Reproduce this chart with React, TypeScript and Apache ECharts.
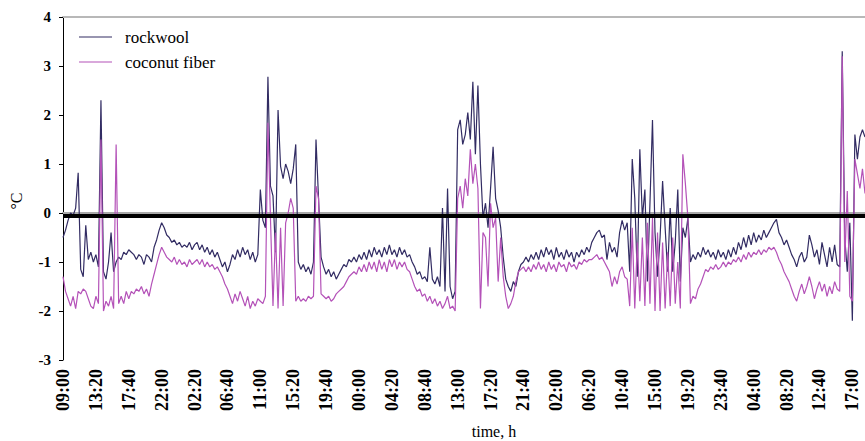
import React, { useEffect, useRef } from 'react';
import * as echarts from 'echarts';

// Readings every 20 minutes, starting 09:00
const START_MINUTE = 9 * 60;
const STEP_MINUTES = 20;
const LABEL_EVERY = 13; // one labelled tick every 4 h 20 min

const TICK_LABELS = [
  '09:00', '13:20', '17:40', '22:00', '02:20', '06:40', '11:00', '15:20', '19:40',
  '00:00', '04:20', '08:40', '13:00', '17:20', '21:40', '02:00', '06:20', '10:40',
  '15:00', '19:20', '23:40', '04:00', '08:20', '12:40', '17:00',
];

const SERIES_NAMES = ['rockwool', 'coconut fiber'];

const ROCKWOOL = [
  -0.5, -0.35, -0.15, 0.0, -0.05, 0.1, 0.82, -1.15, -1.3, -0.25, -0.95, -0.8, -1.0,
  -0.85, -1.1, 2.3, -1.2, -1.35, -1.0, -0.4, -1.2, -1.0, -0.9, -0.95, -0.8, -0.85,
  -0.75, -0.8, -0.85, -0.95, -0.85, -0.9, -1.05, -0.85, -0.9, -1.0, -0.7, -0.55, -0.35,
  -0.2, -0.3, -0.45, -0.5, -0.6, -0.55, -0.65, -0.6, -0.7, -0.65, -0.7, -0.6, -0.75,
  -0.65, -0.6, -0.75, -0.65, -0.8, -0.7, -0.85, -0.75, -0.9, -0.8, -0.95, -1.1, -1.0,
  -1.2, -1.05, -0.85, -0.95, -0.75, -0.9, -0.7, -0.85, -0.75, -0.95, -0.8, -1.0, -0.85,
  0.48, -0.15, -0.3, 2.78, 0.55, 0.35, -0.8, 2.1, 0.95, 0.7, 1.0, 0.85, 0.6,
  0.9, 1.4, -1.0, -1.15, -1.05, -1.2, -1.1, -1.25, -1.0, 1.5, 0.3, -0.9, -1.1,
  -1.25, -1.15, -1.3, -1.2, -1.35, -1.25, -1.15, -1.05, -1.1, -0.95, -1.0, -0.9, -1.0,
  -0.85, -0.95, -0.8, -0.95, -0.75, -0.9, -0.7, -0.85, -0.75, -0.9, -0.7, -0.85, -0.65,
  -0.85, -0.75, -0.9, -0.7, -0.85, -0.75, -0.9, -0.85, -1.0, -1.1, -1.25, -1.2, -1.35,
  -1.3, -1.4, -0.7, -1.35, -1.45, -1.3, -1.5, 0.1, -1.6, 0.5, -1.5, -1.75, -1.6,
  1.7, 1.9, 1.4, 1.6, 2.05, 1.5, 2.68, 1.2, 2.6, 1.0, -0.1, 0.2, -0.3,
  0.5, 1.35, 0.3, 0.05, -0.3, -0.9, -1.35, -1.5, -1.6, -1.4, -1.5, -1.2, -1.05,
  -1.0, -0.9, -1.0, -0.85, -0.95, -0.8, -0.95, -0.75, -0.9, -0.7, -0.85, -0.75, -0.95,
  -0.7, -0.9, -0.8, -0.95, -0.75, -0.9, -0.8, -1.0, -0.8, -0.9, -0.75, -0.85, -0.7,
  -0.8, -0.6, -0.5, -0.4, -0.35, -0.5, -0.45, -0.95, -0.6, -0.8, -0.7, -0.9, -0.4,
  -0.15, -0.35, -0.2, -1.2, 1.1, 0.3, -1.3, 1.3, -0.1, 0.48, -1.4, 0.2, 1.9,
  -0.4, -1.3, -0.5, 0.65, -0.3, -1.2, 0.1, -1.2, -0.6, 0.48, -1.4, -0.3, -0.5,
  -0.1, -1.0, -0.85, -0.95, -0.8, -0.9, -0.7, -0.85, -0.75, -0.9, -0.8, -0.95, -0.75,
  -0.9, -0.8, -0.95, -0.75, -0.9, -0.7, -0.85, -0.6, -0.75, -0.5, -0.7, -0.45, -0.65,
  -0.4, -0.6, -0.45, -0.55, -0.35, -0.5, -0.4, -0.3, -0.2, -0.13, -0.4, -0.5, -0.65,
  -0.55, -0.7, -0.85, -0.95, -1.1, -0.9, -0.8, -1.0, -0.9, -0.45, -0.65, -0.9, -0.75,
  -1.05, -0.6, -0.85, -1.1, -0.7, -1.0, -0.65, -1.05, -1.1, 3.3, -0.5, -1.2, -0.2,
  -2.2, 1.6, 1.1, 1.55, 1.7, 1.55,
];

const COCONUT_FIBER = [
  -1.3, -1.6, -1.75, -1.9, -1.7, -1.95, -1.6, -1.65, -1.55, -1.6, -1.75, -1.9, -1.95,
  -1.7, -1.85, 1.5, -2.0, -1.8, -1.9, -1.7, -1.95, 1.4, -1.85, -1.7, -1.85, -1.6,
  -1.75, -1.6, -1.65, -1.55, -1.6, -1.5, -1.65, -1.55, -1.7, -1.45, -1.25, -1.05, -0.85,
  -0.7, -0.8, -0.9, -0.95, -1.0, -0.9, -1.05, -0.95, -1.05, -1.0, -1.1, -0.95, -1.05,
  -1.0, -0.95, -1.05, -0.95, -1.1, -1.0, -1.1, -1.05, -1.15, -1.1, -1.2, -1.3, -1.45,
  -1.55, -1.7, -1.85, -1.65, -1.8, -1.6, -1.75, -1.9, -1.7, -1.95, -1.8, -1.9, -1.75,
  -1.8, -1.85, -1.7, 1.84, -0.1, -1.9, -0.4, -1.95, -0.3, -1.9, -0.2, 0.0, 0.3,
  0.1, -1.8, -1.7, -1.8, -1.75, -1.8, -1.7, -1.75, -1.7, 0.55, 0.3, -1.65, -1.7,
  -1.75, -1.7, -1.8, -1.75, -1.65, -1.6, -1.55, -1.5, -1.4, -1.3, -1.25, -1.2, -1.25,
  -1.1, -1.2, -1.05, -1.2, -1.0, -1.15, -1.0, -1.2, -0.95, -1.15, -1.0, -1.2, -0.95,
  -1.1, -0.95, -1.15, -1.0, -1.1, -1.0, -1.15, -1.2, -1.35, -1.5, -1.6, -1.55, -1.7,
  -1.65, -1.8, -1.7, -1.85, -1.75, -1.9, -1.8, -1.95, -1.85, -1.7, -1.95, -1.9, -2.0,
  0.3, 0.55, 0.1, 0.7, 0.35, 1.3, 0.6, 1.0, 0.5, -1.95, -0.4, -0.5, -1.5,
  0.2, -0.3, -0.1, -1.4, -0.5, -1.3, -1.7, -1.95, -1.85, -1.7, -1.4, -1.2, -1.15,
  -1.1, -1.2, -1.1, -1.2, -1.05, -1.15, -1.0, -1.15, -1.05, -1.2, -1.0, -1.15, -1.05,
  -1.2, -1.0, -1.1, -1.05, -1.2, -1.0, -1.1, -1.05, -1.15, -1.0, -1.05, -0.95, -1.0,
  -0.95, -0.95, -0.9, -0.85, -0.95, -0.9, -1.0, -1.1, -1.2, -1.5, -1.3, -1.45, -1.2,
  -1.1, -1.3, -1.35, -1.9, -0.3, -1.95, -0.6, -1.8, -0.5, -1.9, -0.2, -1.85, -0.1,
  -2.0, -0.4, -2.0, -0.6, -1.95, -0.8, -1.9, -0.5, -1.85, -1.0, -1.95, 1.2, 0.6,
  -0.1, -1.85, -1.7, -1.75, -1.55, -1.45, -1.3, -1.15, -1.2, -1.1, -1.15, -1.05, -1.15,
  -1.1, -1.0, -1.1, -1.0, -1.05, -0.95, -1.0, -0.9, -1.0, -0.85, -0.95, -0.8, -0.9,
  -0.8, -0.85, -0.75, -0.85, -0.75, -0.8, -0.7, -0.75, -0.7, -0.8, -0.95, -1.05, -1.2,
  -1.3, -1.4, -1.55, -1.7, -1.8, -1.6, -1.45, -1.65, -1.5, -1.3, -1.5, -1.75, -1.55,
  -1.4, -1.6, -1.45, -1.7, -1.5, -1.65, -1.4, -1.55, -1.6, 3.2, -1.0, 0.45, -1.7,
  -1.8, 1.1, 0.8, 0.5, 0.9, 0.4,
];

// Horizontal reference line drawn across the plot
const REFERENCE_LEVEL = -0.05;

const ROCKWOOL_COLOR = '#322c63';
const COCONUT_COLOR = '#b452b8';
const SERIES_COLORS = [ROCKWOOL_COLOR, COCONUT_COLOR];
const SERIF = 'Liberation Serif';

const pad2 = (n: number) => String(n).padStart(2, '0');
const categories = ROCKWOOL.map((_, i) => {
  const m = (START_MINUTE + i * STEP_MINUTES) % 1440;
  return `${pad2(Math.floor(m / 60))}:${pad2(m % 60)}`;
});

// Key in the upper-left corner of the plot: a short line sample and the name
function legendGraphics() {
  const x0 = 79;
  const y0 = 37;
  const rowGap = 25;
  const items: any[] = [];
  SERIES_NAMES.forEach((name, i) => {
    const y = y0 + i * rowGap;
    items.push({
      type: 'line',
      shape: { x1: x0, y1: y, x2: x0 + 33, y2: y },
      style: { stroke: SERIES_COLORS[i], lineWidth: 1.2 },
    });
    items.push({
      type: 'text',
      x: x0 + 46,
      y,
      style: {
        text: name,
        fontFamily: SERIF,
        fontSize: 17,
        fill: '#000',
        align: 'left',
        verticalAlign: 'middle',
      },
    });
  });
  return items;
}

function buildOption() {
  return {
    animation: false,
    backgroundColor: '#ffffff',
    textStyle: { fontFamily: SERIF },
    grid: { left: 63, right: 0, top: 17, bottom: 81, containLabel: false },
    xAxis: [
      {
        type: 'category',
        data: categories,
        boundaryGap: false,
        axisLine: { lineStyle: { color: '#a9a9a9', width: 2 } },
        axisTick: { show: false },
        axisLabel: {
          interval: LABEL_EVERY - 1,
          rotate: 90,
          margin: 9,
          fontFamily: SERIF,
          fontWeight: 'bold',
          fontSize: 18,
          color: '#000',
          formatter: (_v: string, idx: number) => TICK_LABELS[idx / LABEL_EVERY] ?? '',
        },
        splitLine: { show: false },
      },
      {
        type: 'category',
        position: 'top',
        data: categories,
        boundaryGap: false,
        axisLine: { lineStyle: { color: '#b8b8b8', width: 2 } },
        axisTick: { show: false },
        axisLabel: { show: false },
        splitLine: { show: false },
      },
    ],
    yAxis: {
      type: 'value',
      min: -3,
      max: 4,
      interval: 1,
      axisLine: { show: true, lineStyle: { color: '#000', width: 1 } },
      axisTick: { show: true, length: 4, lineStyle: { color: '#000' } },
      axisLabel: { fontFamily: SERIF, fontWeight: 'bold', fontSize: 15, color: '#000', margin: 12 },
      splitLine: { show: false },
    },
    graphic: [
      ...legendGraphics(),
      {
        type: 'text',
        x: 16,
        y: 201,
        rotation: Math.PI / 2,
        style: {
          text: '°C',
          fontFamily: SERIF,
          fontSize: 16,
          fill: '#000',
          align: 'center',
          verticalAlign: 'middle',
        },
      },
      {
        type: 'text',
        x: 494,
        y: 431,
        style: {
          text: 'time, h',
          fontFamily: SERIF,
          fontSize: 16,
          fill: '#000',
          align: 'center',
          verticalAlign: 'middle',
        },
      },
    ],
    series: [
      {
        name: SERIES_NAMES[0],
        type: 'line',
        data: ROCKWOOL,
        symbol: 'none',
        color: ROCKWOOL_COLOR,
        lineStyle: { color: ROCKWOOL_COLOR, width: 1.2 },
      },
      {
        name: SERIES_NAMES[1],
        type: 'line',
        data: COCONUT_FIBER,
        symbol: 'none',
        color: COCONUT_COLOR,
        lineStyle: { color: COCONUT_COLOR, width: 1.2 },
        markLine: {
          silent: true,
          symbol: ['none', 'none'],
          label: { show: false },
          lineStyle: { color: '#000', width: 4, type: 'solid' },
          data: [{ yAxis: REFERENCE_LEVEL }],
        },
      },
    ],
  };
}

export default function App() {
  const ref = useRef<HTMLDivElement>(null);

  useEffect(() => {
    if (!ref.current) return;
    const chart = echarts.init(ref.current, null, { renderer: 'svg' });
    chart.setOption(buildOption() as any);
    return () => chart.dispose();
  }, []);

  return (
    <div
      ref={ref}
      style={{ position: 'fixed', left: 0, top: 0, width: 865, height: 441, background: '#fff' }}
    />
  );
}
